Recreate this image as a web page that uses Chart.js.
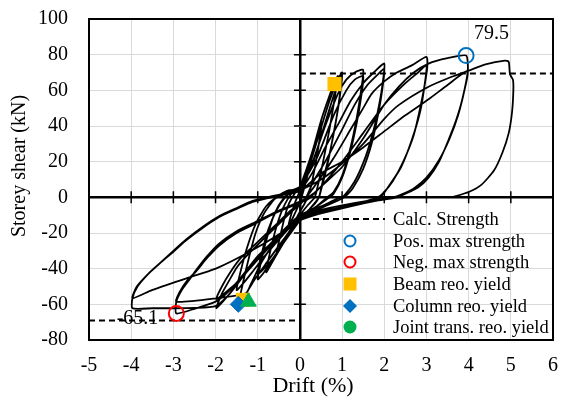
<!DOCTYPE html>
<html>
<head>
<meta charset="utf-8">
<script src="https://cdn.jsdelivr.net/npm/chart.js@4.4.1/dist/chart.umd.min.js"></script>
<style>
html,body{margin:0;padding:0;background:#fff;}
#wrap{width:563px;height:400px;}
</style>
</head>
<body>
<div id="wrap"><canvas id="chart" width="563" height="400"></canvas></div>
<script>
// hysteresis history, one pair of arrays per cycle (drift %, storey shear kN)
const drift025 = [0, 0.1, 0.2, 0.27, 0.2, 0.1, 0.04, 0, -0.1, -0.2, -0.27, -0.2, -0.1, -0.03];
const shear025 = [0, 8, 16, 21, 14, 5, 0, -3, -8, -13, -16, -9, -2, 2];

const drift05 = [0.1, 0.25, 0.4, 0.52, 0.45, 0.35, 0.25, 0.18, 0.1, 0, -0.2, -0.4, -0.55, -0.45, -0.35, -0.25, -0.1];
const shear05 = [10, 22, 34, 42, 30, 16, 5, 0, -4, -8, -17, -25, -31, -20, -10, -3, 3];

const drift075 = [0, 0.3, 0.5, 0.7, 0.82, 0.9, 0.82, 0.7, 0.55, 0.42, 0.35, 0.2, 0, -0.3, -0.6, -0.8, -0.7, -0.55, -0.4, -0.2];
const shear075 = [6, 26, 43, 57, 64, 68, 55, 38, 20, 6, 0, -4, -10, -22, -34, -42, -30, -16, -6, 2];

const drift1a = [0, 0.2, 0.45, 0.7, 0.9, 1.0, 0.95, 0.85, 0.7, 0.55, 0.45, 0.3, 0, -0.3, -0.6, -0.85, -1.0, -0.9, -0.75, -0.6, -0.4, -0.2];
const shear1a = [5, 16, 35, 54, 66, 70, 58, 42, 24, 10, 0, -5, -12, -22, -33, -42, -46, -34, -20, -9, -1, 3];
const drift1b = [0, 0.3, 0.55, 0.8, 0.95, 1.0, 0.92, 0.8, 0.65, 0.5, 0.45, 0.25, 0, -0.4, -0.7, -1.0, -0.9, -0.75, -0.55, -0.35, -0.15];
const shear1b = [6, 19, 38, 57, 66, 68, 52, 36, 18, 4, 0, -6, -13, -26, -36, -43, -31, -18, -7, 0, 4];

const drift15a = [0, 0.3, 0.6, 0.9, 1.1, 1.3, 1.5, 1.45, 1.35, 1.2, 1.0, 0.8, 0.65, 0.4, 0, -0.4, -0.8, -1.1, -1.3, -1.45, -1.35, -1.2, -1.05, -0.85, -0.6, -0.3];
const shear15a = [6, 20, 40, 58, 66, 70, 71.5, 60, 45, 28, 12, 3, 0, -5, -12, -24, -37, -47, -55, -60, -48, -33, -20, -9, -1, 3];
const drift15b = [0, 0.4, 0.8, 1.1, 1.3, 1.5, 1.45, 1.35, 1.2, 1.0, 0.8, 0.7, 0.4, 0, -0.4, -0.8, -1.1, -1.3, -1.5, -1.4, -1.25, -1.05, -0.8, -0.5, -0.25];
const shear15b = [6, 22, 46, 60, 66, 68, 56, 42, 26, 11, 2, 0, -5, -11, -21, -32, -41, -47, -52, -41, -28, -15, -5, 1, 4];

const drift2a = [0, 0.3, 0.6, 0.93, 1.2, 1.5, 1.75, 2.0, 1.95, 1.87, 1.75, 1.56, 1.3, 1.05, 0.95, 0.6, 0, -0.5, -1.0, -1.4, -1.7, -1.98, -1.85, -1.67, -1.5, -1.28, -0.89, -0.5, -0.2, 0, 0.15];
const shear2a = [4, 14, 28, 42, 54, 64, 70, 75, 62, 51, 38, 23, 9, 1, 0, -4, -10, -21, -34, -46, -55, -62.2, -54, -46.4, -39.5, -33.3, -24, -15, -8, -4, 0];
const drift2b = [0.3, 0.6, 1.0, 1.3, 1.6, 1.85, 2.0, 1.95, 1.85, 1.7, 1.5, 1.25, 1.05, 0.6, 0, -0.5, -1.0, -1.5, -1.98, -1.85, -1.65, -1.4, -1.0, -0.6, -0.25, 0, 0.15];
const shear2b = [8, 20, 38, 52, 63, 69, 72, 60, 46, 30, 16, 5, 0, -5, -11, -22, -35, -48, -57, -50, -42, -34, -25, -16, -8, -3, 0];

const drift3a = [0.4, 0.8, 1.2, 1.5, 1.7, 2.0, 2.3, 2.65, 3.0, 3.02, 2.95, 2.85, 2.7, 2.45, 2.2, 2.0, 1.85, 1.3, 0.5, 0, -0.5, -1.0, -1.4, -1.7, -2.0, -2.5, -2.93, -2.93, -2.8, -2.6, -2.46, -2.2, -1.91, -1.5, -1.12, -0.6, -0.1, 0.2];
const shear3a = [8, 22, 38, 50, 58, 65, 70, 74, 78.8, 73, 62, 50, 35, 20, 9, 3, 0, -4, -9, -13, -22, -33, -45, -53, -58.5, -62.5, -65.1, -58.5, -52, -45.5, -40.8, -33, -25.8, -19, -14.6, -8.5, -3.4, 0];
const drift3b = [0.5, 1.0, 1.5, 2.0, 2.5, 2.8, 3.0, 2.95, 2.85, 2.65, 2.4, 2.1, 1.9, 1.3, 0.5, 0, -0.5, -0.9, -1.15, -1.28, -1.98, -2.93, -2.85, -2.65, -2.46, -2.2, -1.91, -1.5, -1.12, -0.6, -0.1, 0.2];
const shear3b = [6, 20, 36, 52, 64, 70, 74, 62, 48, 32, 17, 6, 0, -4, -8, -11, -22, -36, -48, -53.8, -56.6, -58.5, -53, -46, -41.5, -34, -27, -20, -15.5, -9, -4, -1];

const drift4a = [0.5, 1.0, 1.5, 2.0, 2.34, 2.7, 3.05, 3.5, 3.94, 3.98, 3.85, 3.7, 3.52, 3.3, 3.05, 2.8, 2.5, 2.3, 1.8, 1.2, 0.5, 0, -0.5, -1.0, -1.4, -1.7, -2.0, -2.5, -3.0, -3.5, -3.97, -3.97, -3.85, -3.6, -3.32, -3.0, -2.69, -2.3, -1.91, -1.5, -1.12, -0.6, 0];
const shear4a = [6, 17, 33, 52, 62, 70, 75, 78, 79.5, 71, 55, 43, 32, 20, 11, 5.5, 2, 0, -2, -5, -9, -12, -22, -34, -46, -55, -61, -62, -62.2, -62.2, -62.2, -56.6, -50, -43, -37, -30.5, -24, -17, -11, -6.5, -2.5, 0.5, 3.5];
const drift4b = [0.5, 1.0, 1.5, 2.0, 2.5, 3.05, 3.5, 3.98, 3.9, 3.75, 3.55, 3.3, 3.0, 2.7, 2.4, 2.2, 1.6, 1.0, 0.5, 0, -0.33, -1.12, -1.98, -2.69, -3.51, -3.97, -3.88, -3.62, -3.3, -3.0, -2.69, -2.3, -1.91, -1.5, -1.12, -0.6, 0];
const shear4b = [13.5, 20, 28, 37, 46, 55, 63, 71, 60, 46, 33, 21, 11, 5, 1.5, 0, -2, -4.5, -7, -10, -18, -29.5, -39.8, -45.4, -52, -56.6, -50.5, -43.5, -36.5, -30, -23.5, -16.5, -10.5, -6, -2, 1, 4];

const drift5 = [0.5, 1.0, 1.5, 2.0, 2.34, 3.05, 3.6, 4.0, 4.4, 4.86, 4.95, 4.98, 5.05, 5.06, 5.03, 4.95, 4.8, 4.6, 4.3, 4.0, 3.6];
const shear5 = [10, 19, 30, 44, 51.7, 62, 67.6, 71, 74.5, 76.6, 76, 69, 66, 60, 48, 36, 25, 15, 7, 3, 0];

// calculated strength and event markers
const calcStrengthPos = 69.5;
const calcStrengthNeg = -69;
const posMax = [3.94, 79.5];
const negMax = [-2.93, -65.1];
const beamYield = [[0.82, 63.5], [-1.35, -57.5]];
const columnYield = [[-1.46, -60]];
const jointYield = [[-1.22, -58.5]];

const xTicks = {min: -5, max: 6, step: 1};
const yTicks = {min: -80, max: 100, step: 20};

const legendLabels = ['Calc. Strength', 'Pos. max strength', 'Neg. max strength', 'Beam reo. yield', 'Column reo. yield', 'Joint trans. reo. yield'];

const FONT = "'Liberation Serif', 'Times New Roman', serif";
const BLUE = '#0070C0', RED = '#FF0000', YELLOW = '#FFC000', GREEN = '#00B050';

var cycles = [[drift025, shear025], [drift05, shear05], [drift075, shear075], [drift1a, shear1a], [drift1b, shear1b],
    [drift15a, shear15a], [drift15b, shear15b], [drift2a, shear2a], [drift2b, shear2b], [drift3a, shear3a],
    [drift3b, shear3b], [drift4a, shear4a], [drift4b, shear4b], [drift5, shear5]];
var loopData = [];
cycles.forEach(c=>{
    c[0].forEach((d,i)=>loopData.push({x:d, y:c[1][i]}));
});
var pts = arr => arr.map(p=>({x:p[0], y:p[1]}));

var overlay = {
    id:'overlay',
    beforeDatasetsDraw(chart){
        const {ctx, scales:{x, y}} = chart;
        ctx.save();
        ctx.fillStyle = '#000';
        ctx.font = '20px ' + FONT;
        ctx.textBaseline = 'middle';
        ctx.textAlign = 'left';
        ctx.fillText(posMax[1].toFixed(1), x.getPixelForValue(posMax[0]) + 8, y.getPixelForValue(posMax[1]) - 22);
        ctx.textAlign = 'right';
        ctx.fillText(negMax[1].toFixed(1), x.getPixelForValue(negMax[0]) - 18, y.getPixelForValue(negMax[1]) + 5);
        ctx.restore();
    },
    afterDraw(chart){
        const {ctx, chartArea:a, scales:{x, y}} = chart;
        ctx.save();
        // frame
        ctx.strokeStyle = '#000';
        ctx.lineWidth = 2;
        ctx.strokeRect(a.left, a.top, a.right - a.left, a.bottom - a.top);
        // ticks crossing the zero axes
        var x0 = x.getPixelForValue(0), y0 = y.getPixelForValue(0);
        ctx.lineWidth = 1.5;
        ctx.beginPath();
        for (var v = yTicks.min; v <= yTicks.max; v += yTicks.step){
            if (v === 0) continue;
            var py = y.getPixelForValue(v);
            ctx.moveTo(x0 - 6, py); ctx.lineTo(x0 + 6, py);
        }
        for (var u = xTicks.min; u <= xTicks.max; u += xTicks.step){
            if (u === 0) continue;
            var px = x.getPixelForValue(u);
            ctx.moveTo(px, y0 - 6); ctx.lineTo(px, y0 + 6);
        }
        ctx.stroke();

        // axis titles
        ctx.fillStyle = '#000';
        ctx.font = '22px ' + FONT;
        ctx.textAlign = 'center';
        ctx.textBaseline = 'middle';
        ctx.fillText('Drift (%)', 313, 386);
        ctx.save();
        ctx.translate(20, 166);
        ctx.rotate(-Math.PI / 2);
        ctx.font = '20px ' + FONT;
        ctx.fillText('Storey shear (kN)', 0, 0);
        ctx.restore();

        // legend
        var rows = [219, 241, 262, 284, 306, 327];
        var mx = 350;
        ctx.font = '18.5px ' + FONT;
        ctx.textAlign = 'left';
        legendLabels.forEach((t,i)=>ctx.fillText(t, 393, rows[i] + 1));
        ctx.setLineDash([6, 4]);
        ctx.lineWidth = 2;
        ctx.beginPath(); ctx.moveTo(313, rows[0]); ctx.lineTo(385, rows[0]); ctx.stroke();
        ctx.setLineDash([]);
        ctx.strokeStyle = BLUE;
        ctx.beginPath(); ctx.arc(mx, rows[1], 5.5, 0, Math.PI*2); ctx.stroke();
        ctx.strokeStyle = RED;
        ctx.beginPath(); ctx.arc(mx, rows[2], 5.5, 0, Math.PI*2); ctx.stroke();
        ctx.fillStyle = YELLOW;
        ctx.fillRect(mx - 6.5, rows[3] - 6.5, 13, 13);
        ctx.fillStyle = BLUE;
        ctx.beginPath();
        ctx.moveTo(mx, rows[4] - 7); ctx.lineTo(mx + 7, rows[4]); ctx.lineTo(mx, rows[4] + 7); ctx.lineTo(mx - 7, rows[4]);
        ctx.closePath(); ctx.fill();
        ctx.fillStyle = GREEN;
        ctx.beginPath(); ctx.arc(mx, rows[5], 6.5, 0, Math.PI*2); ctx.fill();
        ctx.restore();
    }
};

function noPad(scale){
    scale.paddingTop = 0;
    scale.paddingBottom = 0;
    scale.paddingLeft = 0;
    scale.paddingRight = 0;
}

var ctx = document.getElementById('chart').getContext('2d');
var chart = new Chart(ctx, {
    type:'scatter',
    data:{
        datasets:[
            {label:'Joint', data:pts(jointYield), pointStyle:'triangle', pointRadius:9, backgroundColor:GREEN, borderColor:GREEN, borderWidth:1, order:1},
            {label:'Column', data:pts(columnYield), pointStyle:'rectRot', pointRadius:8, backgroundColor:BLUE, borderColor:BLUE, borderWidth:1, order:2},
            {label:'Beam', data:pts(beamYield), pointStyle:'rect', pointRadius:10, backgroundColor:YELLOW, borderColor:YELLOW, borderWidth:0, order:3},
            {label:'Neg max', data:[{x:negMax[0], y:negMax[1]}], pointStyle:'circle', pointRadius:7.5, backgroundColor:'rgba(0,0,0,0)', borderColor:RED, borderWidth:2, order:4},
            {label:'Pos max', data:[{x:posMax[0], y:posMax[1]}], pointStyle:'circle', pointRadius:7.5, backgroundColor:'rgba(0,0,0,0)', borderColor:BLUE, borderWidth:2, order:5},
            {label:'Calc +', data:[{x:0, y:calcStrengthPos}, {x:xTicks.max, y:calcStrengthPos}], showLine:true, pointRadius:0, borderColor:'#000', borderWidth:2, borderDash:[6,4], order:6},
            {label:'Calc -', data:[{x:xTicks.min, y:calcStrengthNeg}, {x:0, y:calcStrengthNeg}], showLine:true, pointRadius:0, borderColor:'#000', borderWidth:2, borderDash:[6,4], order:7},
            {label:'Hysteresis', data:loopData, showLine:true, pointRadius:0, borderColor:'#000', borderWidth:1.8, tension:0.2, order:8}
        ]
    },
    options:{
        responsive:false,
        animation:false,
        devicePixelRatio:1,
        layout:{padding:{top:19, right:8, left:0, bottom:0}},
        plugins:{
            legend:{display:false},
            tooltip:{enabled:false}
        },
        scales:{
            x:{
                type:'linear',
                min:xTicks.min, max:xTicks.max,
                afterFit(scale){ scale.height = 60; noPad(scale); },
                ticks:{stepSize:xTicks.step, color:'#000', padding:14, font:{family:FONT, size:20}},
                grid:{
                    drawTicks:false,
                    color:c=>c.tick && c.tick.value === 0 ? '#000' : '#d9d9d9',
                    lineWidth:c=>c.tick && c.tick.value === 0 ? 2.5 : 1
                },
                border:{display:true, color:'#000', width:2}
            },
            y:{
                type:'linear',
                min:yTicks.min, max:yTicks.max,
                afterFit(scale){ scale.width = 89; noPad(scale); },
                ticks:{stepSize:yTicks.step, color:'#000', padding:21, font:{family:FONT, size:20}},
                grid:{
                    drawTicks:false,
                    color:c=>c.tick && c.tick.value === 0 ? '#000' : '#d9d9d9',
                    lineWidth:c=>c.tick && c.tick.value === 0 ? 2.5 : 1
                },
                border:{display:true, color:'#000', width:2}
            }
        }
    },
    plugins:[overlay]
});
</script>
</body>
</html>
